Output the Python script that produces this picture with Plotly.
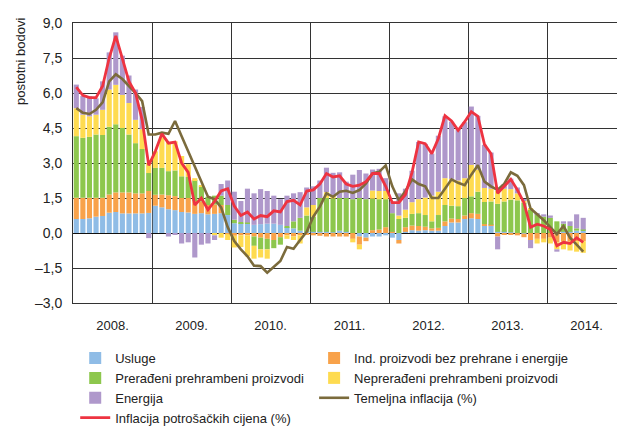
import plotly.graph_objects as go

# ---------------- data (Jan 2008 - Jun 2014, monthly) ----------------
years = ["2008.", "2009.", "2010.", "2011.", "2012.", "2013.", "2014."]
ytick_vals = [-3.0, -1.5, 0.0, 1.5, 3.0, 4.5, 6.0, 7.5, 9.0]
ytick_text = ["–3,0", "–1,5", "0,0", "1,5", "3,0", "4,5", "6,0", "7,5", "9,0"]

usluge = [0.60, 0.60, 0.63, 0.70, 0.73, 0.87, 0.90, 0.84, 0.84, 0.84, 0.84, 0.86,
          1.17, 1.10, 1.02, 0.98, 0.90, 0.88, 0.82, 0.85, 0.80, 0.82, 0.85, 0.77,
          0.42, 0.42, 0.40, 0.35, 0.38, 0.40, 0.40, 0.35, 0.25, 0.20, 0.10, 0.05,
          0.05, 0.05, 0.05, 0.03, 0.10, 0.05, 0.00, -0.15, -0.20, -0.15, -0.15, -0.10,
          -0.20, -0.30, 0.05, 0.12, 0.10, 0.12, 0.10, 0.10, 0.30, 0.45, 0.45, 0.60,
          0.63, 0.60, 0.33, 0.33, 0.05, 0.05, 0.03, 0.00, -0.03, 0.00, 0.00, 0.00,
          0.00, 0.05, 0.05, 0.05, 0.10, 0.10]
ind_proizvodi = [0.91, 0.91, 0.88, 0.81, 0.78, 0.78, 0.84, 0.90, 0.90, 0.86, 0.86, 0.94,
                 0.47, 0.55, 0.60, 0.60, 0.60, 0.62, 0.55, 0.50, 0.40, 0.40, 0.35, -0.05,
                 -0.12, -0.10, -0.10, -0.15, -0.20, -0.25, -0.30, -0.18, -0.10, -0.15, -0.10, -0.05,
                 -0.10, -0.12, -0.15, -0.15, -0.15, -0.15, -0.25, -0.35, -0.15, 0.12, 0.15, 0.25,
                 0.05, -0.15, 0.20, 0.20, 0.20, 0.15, 0.10, 0.12, 0.20, 0.17, 0.15, 0.15,
                 0.22, 0.22, 0.05, 0.02, -0.15, -0.05, -0.08, -0.10, -0.15, -0.30, -0.25, -0.25,
                 -0.20, -0.40, -0.35, -0.35, -0.35, -0.35]
preradjeni = [2.64, 2.57, 2.61, 2.71, 2.69, 2.90, 2.92, 2.76, 2.48, 2.15, 1.90, 0.77,
              1.15, 1.14, 1.03, 1.10, 0.93, 0.90, 0.90, 0.65, 0.35, 0.38, 0.40, 0.43,
              0.15, 0.05, 0.05, -0.40, -0.50, -0.45, -0.35, -0.32, 0.05, 0.30, 0.55, 0.70,
              0.65, 1.45, 1.45, 1.45, 1.40, 1.45, 1.45, 1.50, 1.45, 1.35, 1.30, 1.20,
              0.80, 0.60, 0.40, 0.50, 0.55, 0.50, 0.30, 0.55, 0.70, 0.55, 0.55, 0.75,
              0.72, 0.95, 0.95, 1.00, 1.20, 1.30, 1.40, 1.40, 1.30, 1.00, 0.80, 0.70,
              0.65, 0.45, 0.35, 0.25, 0.10, 0.05]
nepreradjeni = [1.20, 0.99, 0.88, 0.85, 1.08, 1.60, 1.69, 1.42, 1.35, 1.00, 0.85, 0.43,
                0.71, 1.31, 1.25, 1.25, 0.87, 0.55, 0.08, 0.05, 0.00, -0.10, -0.20, -0.25,
                -0.50, -0.50, -0.90, -0.55, -0.35, -0.40, 0.00, 0.00, -0.15, -0.15, -0.35, 0.35,
                0.50, 0.00, 0.25, 0.15, 0.00, 0.00, -0.15, -0.20, 0.00, 0.35, 0.35, 0.35,
                0.00, 0.15, 0.35, 0.50, 0.60, 0.75, 1.10, 1.00, 1.15, 1.15, 1.10, 0.85,
                1.35, 0.95, 0.60, 0.55, 0.55, 0.55, 0.45, 0.30, 0.10, 0.05, -0.20, -0.15,
                -0.25, -0.30, -0.35, -0.40, -0.45, -0.50]
energija = [1.01, 0.81, 0.86, 0.70, 1.22, 1.59, 2.25, 1.68, 1.18, 1.30, 0.95, -0.22,
            0.00, 0.00, -0.15, -0.05, -0.45, -0.40, -1.05, -0.50, -0.45, -0.20, 0.50, 1.05,
            1.20, 0.90, 1.45, 1.35, 1.50, 1.40, 1.20, 1.10, 1.30, 1.20, 1.10, 0.85,
            0.80, 0.75, 1.05, 0.95, 1.10, 0.70, 1.05, 1.20, 1.10, 0.90, 0.95, 0.55,
            0.50, 0.95, 0.90, 1.35, 2.45, 2.30, 1.80, 2.40, 2.65, 2.45, 2.20, 2.40,
            2.50, 2.30, 1.85, 1.55, -0.55, 0.20, 0.45, 0.25, 0.05, -0.35, 0.05, 0.10,
            0.10, -0.10, 0.10, 0.20, 0.60, 0.50]
temeljna = [5.35, 5.15, 5.10, 5.28, 5.60, 6.50, 6.80, 6.60, 6.30, 6.00, 5.65, 4.22,
            4.22, 4.30, 4.25, 4.80, 4.15, 3.50, 2.85, 2.25, 1.55, 1.45, 1.10, 0.25,
            -0.35, -0.70, -1.00, -1.40, -1.42, -1.70, -1.45, -1.20, -0.60, -0.68, -0.30, 0.05,
            0.70, 1.13, 1.70, 1.55, 1.77, 1.81, 1.72, 1.84, 2.12, 2.55, 2.62, 2.90,
            2.00, 1.40, 1.80, 2.30, 2.10, 2.00, 1.50, 1.50, 1.90, 2.30, 2.15, 2.05,
            2.50, 2.90, 2.20, 2.00, 1.85, 2.10, 2.60, 2.45, 2.05, 1.05, 0.80, 0.55,
            0.25, -0.05, 0.30, -0.20, -0.50, -0.80]
inflacija = [6.25, 5.90, 5.80, 5.80, 6.30, 7.50, 8.45, 7.50, 6.50, 6.00, 4.85, 2.90,
             3.50, 4.25, 3.85, 3.90, 3.00, 2.60, 1.20, 1.50, 1.00, 1.35, 1.80, 1.90,
             1.15, 0.75, 0.90, 0.60, 0.75, 0.70, 0.95, 0.90, 1.35, 1.40, 1.20, 1.80,
             1.85, 2.10, 2.55, 2.40, 2.45, 2.10, 2.00, 2.05, 2.20, 2.55, 2.55, 2.00,
             1.30, 1.30, 1.65, 2.60, 3.90, 3.83, 3.40, 4.05, 5.03, 4.80, 4.40, 4.77,
             5.20, 5.00, 3.80, 3.40, 1.70, 2.00, 2.30, 1.85, 1.30, 0.25, 0.38, 0.30,
             0.15, -0.55, -0.40, -0.45, -0.20, -0.40]

months = list(range(len(inflacija)))
n_months_axis = 12 * len(years)

FONT = "Liberation Sans, Arial, Helvetica, sans-serif"

# (name, values, colour, legend column)
bars = [
    ("Usluge", usluge, "#8FBCE6", "legend"),
    ("Ind. proizvodi bez prehrane i energije", ind_proizvodi, "#F8A24A", "legend2"),
    ("Prerađeni prehrambeni proizvodi", preradjeni, "#8DC74D", "legend"),
    ("Neprerađeni prehrambeni proizvodi", nepreradjeni, "#FEDB50", "legend2"),
    ("Energija", energija, "#AF98CB", "legend"),
]

fig = go.Figure()
for name, vals, col, leg in bars:
    fig.add_trace(go.Bar(x=months, y=vals, name=name, marker_color=col,
                         marker_line_width=0, legend=leg))
fig.add_trace(go.Scatter(x=months, y=temeljna, name="Temeljna inflacija (%)",
                         mode="lines", line=dict(color="#7B6B3C", width=2.6),
                         legend="legend2"))
fig.add_trace(go.Scatter(x=months, y=inflacija, name="Inflacija potrošačkih cijena (%)",
                         mode="lines", line=dict(color="#EE3341", width=2.8),
                         legend="legend"))

GRID = "#333333"
legend_common = dict(orientation="v", yanchor="top", xanchor="left",
                     font=dict(size=13, family=FONT, color="#222"),
                     itemwidth=30, tracegroupgap=0, bgcolor="rgba(0,0,0,0)",
                     traceorder="normal")
fig.update_layout(
    width=625, height=438,
    margin=dict(l=65, r=7, t=15, b=143, autoexpand=False),
    barmode="relative", bargap=0.22,
    paper_bgcolor="white", plot_bgcolor="white",
    font=dict(family=FONT, size=13, color="#222"),
    showlegend=True,
    legend=dict(x=0.004, y=-0.143, **legend_common),
    legend2=dict(x=0.436, y=-0.143, **legend_common),
    xaxis=dict(range=[-0.5, n_months_axis - 0.5], tickmode="array",
               tickvals=[12 * i + 5.5 for i in range(len(years))], ticktext=years,
               showgrid=False, ticks="outside", ticklen=10, tickcolor="rgba(0,0,0,0)",
               showline=True, linecolor=GRID, linewidth=1, mirror=True, zeroline=False,
               automargin=False, tickfont=dict(size=13, family=FONT, color="#222"),
               minor=dict(tickmode="array",
                          tickvals=[12 * i - 0.5 for i in range(1, len(years))],
                          showgrid=True, gridcolor=GRID, gridwidth=1, ticks="")),
    yaxis=dict(range=[-3, 9], tickmode="array", tickvals=ytick_vals, ticktext=ytick_text,
               showgrid=True, gridcolor=GRID, gridwidth=1,
               zeroline=True, zerolinecolor="#111", zerolinewidth=1.2,
               showline=True, linecolor=GRID, linewidth=1, mirror=True,
               ticks="outside", ticklen=7, tickcolor="rgba(0,0,0,0)",
               automargin=False, tickfont=dict(size=14, family=FONT, color="#222")),
    annotations=[dict(text="postotni bodovi", xref="paper", yref="paper",
                      x=-0.095, y=1.03, xanchor="center", yanchor="top",
                      textangle=-90, showarrow=False,
                      font=dict(size=13, family=FONT, color="#222"))],
    shapes=[dict(type="line", xref="paper", yref="paper", x0=-0.11, x1=1.02,
                 y0=1.057, y1=1.057, line=dict(color="#222", width=1))],
)

fig.write_html("out.html")
